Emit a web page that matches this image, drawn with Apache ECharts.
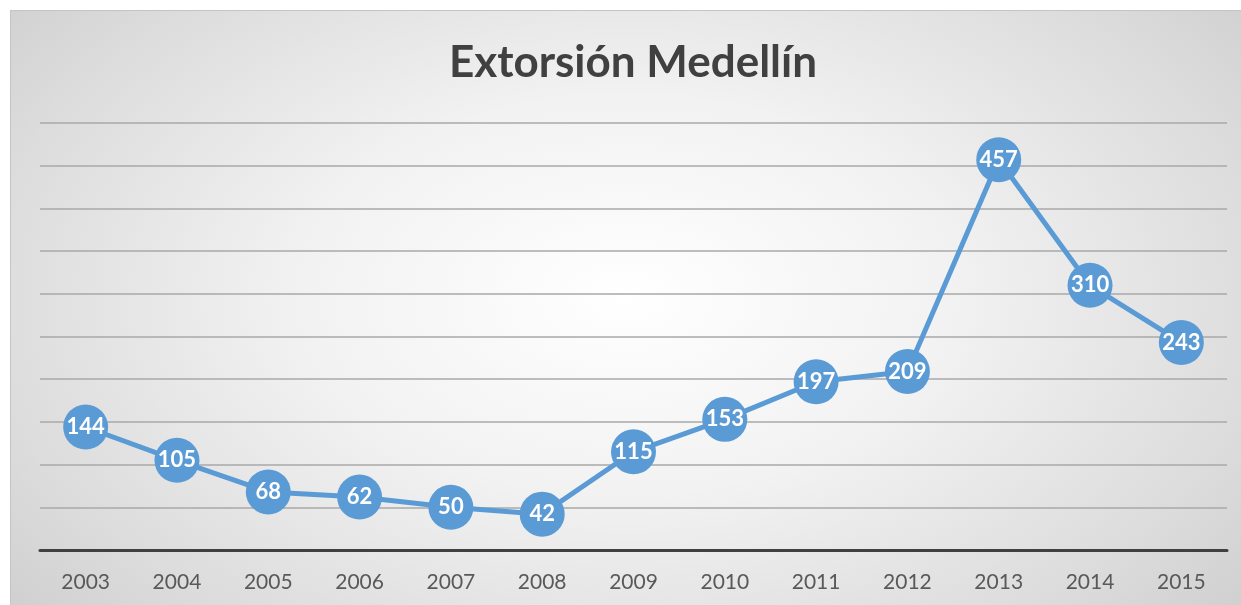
<!DOCTYPE html>
<html>
<head>
<meta charset="utf-8">
<script src="https://cdn.jsdelivr.net/npm/echarts@6/dist/echarts.min.js"></script>
<style>
  html, body { margin: 0; padding: 0; background: #fff; }
  #frame {
    position: absolute; left: 10px; top: 10px; width: 1231px; height: 595px;
    border-top: 1px solid #c4c4c4; border-left: 1px solid #c4c4c4;
    box-sizing: border-box;
    background: radial-gradient(ellipse 75% 95% at 50% 48%, #ffffff 0%, #f2f2f2 35%, #dcdcdc 70%, #c6c6c6 100%);
  }
  #main { width: 100%; height: 100%; }
</style>
</head>
<body>
<div id="frame"><div id="main"></div></div>
<script>
var years = ["2003", "2004", "2005", "2006", "2007", "2008", "2009", "2010", "2011", "2012", "2013", "2014", "2015"];
var casos = [144, 105, 68, 62, 50, 42, 115, 153, 197, 209, 457, 310, 243];

var chart = echarts.init(document.getElementById("main"));
chart.setOption({
    backgroundColor: "transparent",
    animation: false,
    title: {
        text: "Extorsión Medellín",
        left: 617, top: 25, textAlign: "center",
        textStyle: { fontFamily: "Lato", fontWeight: "bold", fontSize: 44, color: "#404040" }
    },
    grid: { left: 29, right: 14, top: 112, bottom: 55 },
    xAxis: {
        type: "category",
        data: years,
        boundaryGap: true,
        axisLine: { lineStyle: { color: "#404040", width: 3 } },
        axisTick: { show: false },
        axisLabel: { color: "#595959", fontSize: 21, fontFamily: "Lato", margin: 22 }
    },
    yAxis: {
        type: "value",
        min: 0, max: 500, interval: 50,
        axisLine: { show: false },
        axisTick: { show: false },
        axisLabel: { show: false },
        splitLine: { lineStyle: { color: "#a8a8a8", width: 1.5 } }
    },
    series: [{
        type: "line",
        data: casos,
        symbol: "circle",
        symbolSize: 45,
        lineStyle: { color: "#5b9bd5", width: 5 },
        itemStyle: { color: "#5b9bd5" },
        label: {
            show: true, position: "inside",
            color: "#fff", fontSize: 22, fontWeight: "bold", fontFamily: "Lato"
        }
    }]
});
</script>
</body>
</html>
